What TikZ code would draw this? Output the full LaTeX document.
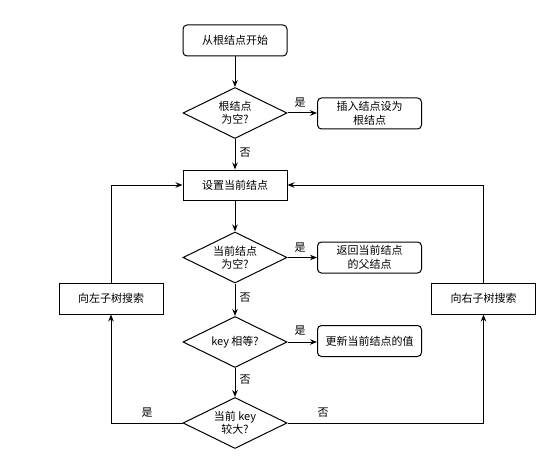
\documentclass[tikz,border=0pt]{standalone}
\usepackage{fontspec}
\setmainfont{Noto Sans CJK SC}
\usetikzlibrary{shapes.geometric,arrows.meta}
\begin{document}
\begin{tikzpicture}[x=1pt,y=-1pt,
  every node/.style={font=\fontsize{11pt}{13.5pt}\selectfont, text=black},
  rbox/.style={draw, line width=1pt, rounded corners=4pt, minimum width=104pt, minimum height=31pt, align=center, inner sep=1pt, fill=white},
  sbox/.style={draw, line width=1pt, minimum width=104pt, minimum height=31pt, align=center, inner sep=1pt, fill=white},
  dia/.style={draw, line width=1pt, diamond, aspect=2.08, minimum width=104pt, minimum height=51pt, inner sep=0pt, align=center, fill=white},
  lbl/.style={inner sep=0pt},
  arr/.style={draw, line width=1pt, -{Stealth[length=7pt,width=5.5pt]}},
  ln/.style={draw, line width=1pt}
]
\useasboundingbox (0,0) rectangle (556,465);
\node[rbox] (start) at (235,40.5) {从根结点开始};
\node[dia] (d1) at (235,113) {根结点\\为空?};
\node[rbox] (r1) at (369.5,113.5) {插入结点设为\\根结点};
\node[sbox, minimum height=30pt] (set) at (235,185) {设置当前结点};
\node[dia] (d2) at (235,257.5) {当前结点\\为空?};
\node[rbox] (r2) at (369.5,257.5) {返回当前结点\\的父结点};
\node[dia] (d3) at (235,342) {key 相等?};
\node[rbox] (r3) at (369.5,341) {更新当前结点的值};
\node[dia] (d4) at (235,423) {当前 key\\较大?};
\node[sbox] (left) at (111,298.5) {向左子树搜索};
\node[sbox] (right) at (483.5,298.5) {向右子树搜索};

\node[lbl] (y1) at (300,103) {是};
\node[lbl] (n1) at (245,153) {否};
\node[lbl] (y2) at (300,248) {是};
\node[lbl] (n2) at (245,298) {否};
\node[lbl] (y3) at (300,331) {是};
\node[lbl] (n3) at (245,380) {否};
\node[lbl] (y4) at (147,413) {是};
\node[lbl] (n4) at (323,413) {否};

\draw[arr] (start) -- (d1);
\draw[arr] (d1) -- (r1.west |- d1.east);
\draw[arr] (d1) -- (set);
\draw[arr] (set) -- (d2);
\draw[arr] (d2) -- (r2.west |- d2.east);
\draw[arr] (d2) -- (d3);
\draw[arr] (d3) -- (r3.west |- d3.east);
\draw[arr] (d3) -- (d4);
\draw[arr] (d4.west) -| (left.south);
\draw[arr] (left.north) |- (set.west);
\draw[arr] (d4.east) -| (right.south);
\draw[arr] (right.north) |- (set.east);
\end{tikzpicture}
\end{document}
